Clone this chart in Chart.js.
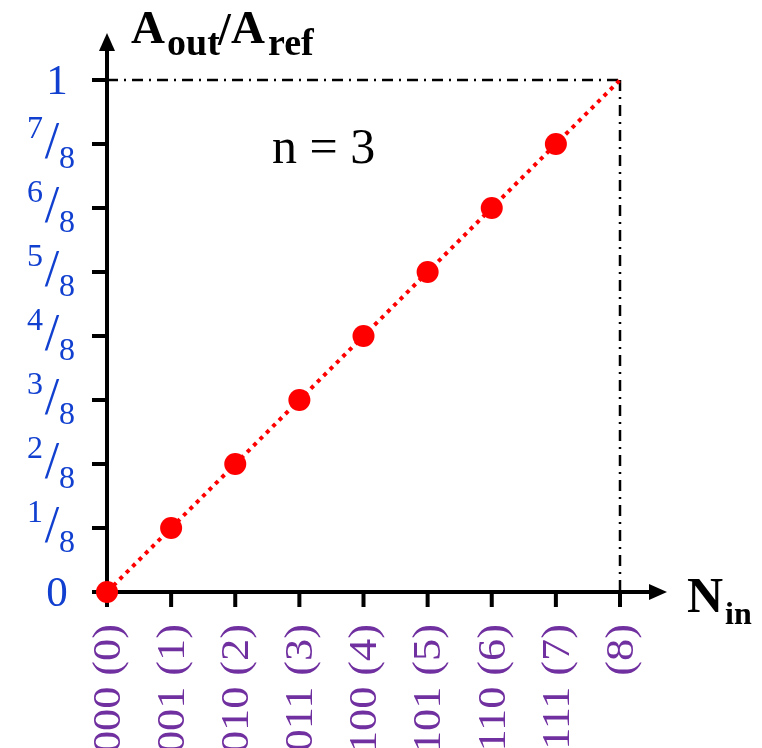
<!DOCTYPE html>
<html>
<head>
<meta charset="utf-8">
<title>DAC transfer characteristic, n = 3</title>
<script src="https://cdn.jsdelivr.net/npm/chart.js@4.4.1/dist/chart.umd.min.js"></script>
<style>
  html, body { margin: 0; padding: 0; background: #fff; }
  #wrap { width: 762px; height: 748px; }
</style>
</head>
<body>
<div id="wrap"><canvas id="dac"></canvas></div>
<script>
// input codes and normalised output
const codes      = [0, 1, 2, 3, 4, 5, 6, 7, 8];
const outRatio   = [0, 0.125, 0.25, 0.375, 0.5, 0.625, 0.75, 0.875, 1];
const xTickVals  = [0, 1, 2, 3, 4, 5, 6, 7, 8];
const xTickText  = ['000 (0)', '001 (1)', '010 (2)', '011 (3)', '100 (4)',
                    '101 (5)', '110 (6)', '111 (7)', '(8)'];
const yTickVals  = [0, 0.125, 0.25, 0.375, 0.5, 0.625, 0.75, 0.875, 1];
const yTickText  = ['0', '1/8', '2/8', '3/8', '4/8', '5/8', '6/8', '7/8', '1'];

const SERIF  = "'Liberation Serif', 'Times New Roman', serif";
const BLUE   = '#1140d0';
const PURPLE = '#7030a0';

// axes, arrows, reference lines and all the text
const axesPlugin = {
  id: 'dacAxes',
  beforeDatasetsDraw(chart) {
    const ctx = chart.ctx;
    const xs = chart.scales.x, ys = chart.scales.y;
    const x0 = xs.getPixelForValue(0), x8 = xs.getPixelForValue(8);
    const y0 = ys.getPixelForValue(0), y1 = ys.getPixelForValue(1);

    ctx.save();
    // dash-dot full-scale guides
    ctx.strokeStyle = '#000';
    ctx.lineWidth = 2.5;
    ctx.setLineDash([11, 6, 2, 6]);
    ctx.beginPath();
    ctx.moveTo(x0, y1); ctx.lineTo(x8, y1);
    ctx.moveTo(x8, y1); ctx.lineTo(x8, y0);
    ctx.stroke();
    ctx.setLineDash([]);

    // axis lines
    ctx.lineWidth = 4;
    ctx.beginPath();
    ctx.moveTo(x0 - 15, y0); ctx.lineTo(650, y0);
    ctx.moveTo(x0, y0 + 15); ctx.lineTo(x0, 48);
    // ticks
    xTickVals.forEach(v => {
      const px = xs.getPixelForValue(v);
      ctx.moveTo(px, y0); ctx.lineTo(px, y0 + 15);
    });
    yTickVals.forEach(v => {
      const py = ys.getPixelForValue(v);
      ctx.moveTo(x0 - 15, py); ctx.lineTo(x0, py);
    });
    ctx.stroke();

    // arrow heads
    ctx.fillStyle = '#000';
    ctx.beginPath();
    ctx.moveTo(x0, 33); ctx.lineTo(x0 - 8, 51); ctx.lineTo(x0 + 8, 51);
    ctx.closePath(); ctx.fill();
    ctx.beginPath();
    ctx.moveTo(667, y0); ctx.lineTo(649, y0 - 8); ctx.lineTo(649, y0 + 8);
    ctx.closePath(); ctx.fill();
    ctx.restore();
  },
  afterDraw(chart) {
    const ctx = chart.ctx;
    const xs = chart.scales.x, ys = chart.scales.y;
    const y0 = ys.getPixelForValue(0);
    ctx.save();

    // y tick labels, fractions drawn as num / den
    ctx.fillStyle = BLUE;
    ctx.textBaseline = 'alphabetic';
    yTickVals.forEach((v, i) => {
      const py = ys.getPixelForValue(v);
      const parts = yTickText[i].split('/');
      if (parts.length === 1) {
        ctx.font = '43px ' + SERIF;
        ctx.textAlign = 'center';
        ctx.fillText(parts[0], 57, py + 14);
      } else {
        ctx.font = '32px ' + SERIF;
        ctx.textAlign = 'right';
        ctx.fillText(parts[0], 43, py - 6);
        ctx.font = '52px ' + SERIF;
        ctx.textAlign = 'center';
        ctx.fillText('/', 52, py + 14);
        ctx.font = '32px ' + SERIF;
        ctx.textAlign = 'left';
        ctx.fillText(parts[1], 59, py + 24);
      }
    });

    // x tick labels, rotated to read upward, a bit stretched lengthwise
    ctx.fillStyle = PURPLE;
    ctx.font = '41px ' + SERIF;
    ctx.textAlign = 'right';
    ctx.textBaseline = 'middle';
    xTickVals.forEach((v, i) => {
      const px = xs.getPixelForValue(v);
      ctx.save();
      ctx.translate(px + 2, y0 + 32);
      ctx.rotate(-Math.PI / 2);
      ctx.scale(1.08, 1);
      ctx.fillText(xTickText[i], 0, 0);
      ctx.restore();
    });

    // axis titles with subscripts
    ctx.fillStyle = '#000';
    ctx.textAlign = 'left';
    ctx.textBaseline = 'alphabetic';
    const piece = (txt, font, x, base) => {
      ctx.font = font;
      ctx.fillText(txt, x, base);
    };
    piece('A', 'bold 47px ' + SERIF, 131, 43);
    piece('out', 'bold 38px ' + SERIF, 167, 55);
    piece('/', 'bold 46px ' + SERIF, 218, 45);
    piece('A', 'bold 47px ' + SERIF, 231, 43);
    piece('ref', 'bold 38px ' + SERIF, 268, 55);

    piece('N', 'bold 50px ' + SERIF, 687, 612);
    piece('in', 'bold 32px ' + SERIF, 725, 624);

    piece('n = 3', '50px ' + SERIF, 272, 163);
    ctx.restore();
  }
};

new Chart(document.getElementById('dac'), {
  type: 'line',
  data: {
    labels: codes,
    datasets: [{
      data: codes.map((c, i) => ({ x: c, y: outRatio[i] })),
      borderColor: '#ff0000',
      borderWidth: 4,
      borderDash: [4, 5],
      backgroundColor: '#ff0000',
      pointBackgroundColor: '#ff0000',
      pointBorderWidth: 0,
      pointRadius: codes.map(c => (c === 8 ? 0 : 11)),
      tension: 0,
      clip: false
    }]
  },
  options: {
    responsive: true,
    maintainAspectRatio: false,
    animation: false,
    events: [],
    layout: { padding: { left: 107, right: 142, top: 80, bottom: 156 } },
    plugins: { legend: { display: false }, tooltip: { enabled: false } },
    scales: {
      x: { type: 'linear', min: 0, max: 8, display: false },
      y: { type: 'linear', min: 0, max: 1, display: false }
    }
  },
  plugins: [axesPlugin]
});
</script>
</body>
</html>
